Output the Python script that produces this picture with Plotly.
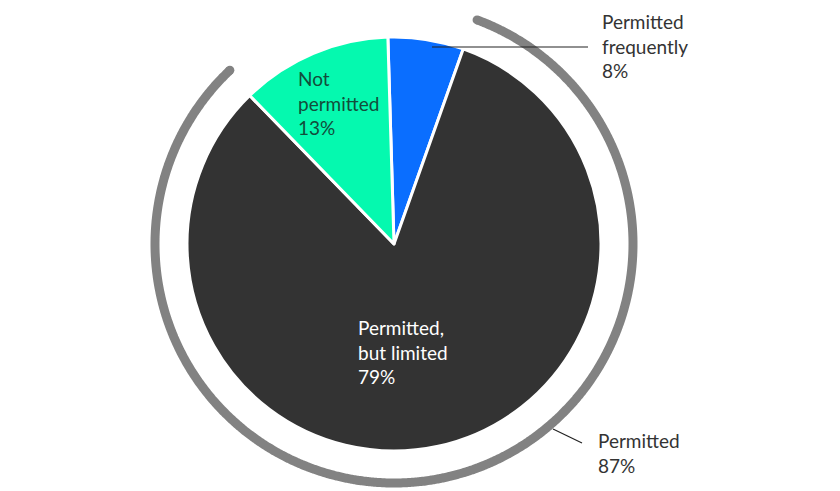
import math
import plotly.graph_objects as go

# ---- data ----
slice_names = ["Permitted frequently", "Permitted, but limited", "Not permitted"]
slice_values = [5.9, 82.3, 11.8]          # drawn slice sizes
slice_labels = ["Permitted<br>frequently<br>8%", "Permitted,<br>but limited<br>79%", "Not<br>permitted<br>13%"]
group_label = "Permitted<br>87%"
slice_colors = ["#0a6eff", "#333333", "#05f9af"]

W, H = 840, 491
OFF = 8                    # page offset of the plot inside the browser window
CX, CY = 394 - OFF, 244 - OFF   # pie centre in figure pixels (from top-left)
R_PIE = 207
R_ARC = 239
START = -1.7               # start angle of first slice (deg clockwise from 12 o'clock)

FONT = "Lato, 'Open Sans', sans-serif"
FS = 19

def px(x):
    return (x - OFF) / W

def py(y):
    return 1 - (y - OFF) / H

fig = go.Figure()

fig.add_trace(go.Pie(
    labels=slice_names,
    values=slice_values,
    sort=False,
    direction="clockwise",
    rotation=START,
    marker=dict(colors=slice_colors, line=dict(color="white", width=3)),
    textinfo="none",
    hoverinfo="label+percent",
    showlegend=False,
    domain=dict(x=[(CX - R_PIE) / W, (CX + R_PIE) / W], y=[1 - (CY + R_PIE) / H, 1 - (CY - R_PIE) / H]),
))

# arc around the "permitted" part, derived from slice values
total = sum(slice_values)
a0 = START + slice_values[0] / total * 360 + 0.8
a1 = START + (slice_values[0] + slice_values[1]) / total * 360 + 0.8
n = 600
thetas = [math.radians(a0 + (a1 - a0) * i / n) for i in range(n + 1)]
ax_ = [CX + R_ARC * math.sin(t) for t in thetas]
ay_ = [CY - R_ARC * math.cos(t) for t in thetas]
fig.add_trace(go.Scatter(
    x=ax_, y=ay_, mode="lines", cliponaxis=False,
    line=dict(color="#828282", width=9, simplify=False, shape="spline", smoothing=1),
    hoverinfo="skip", showlegend=False,
))
fig.add_trace(go.Scatter(
    x=[ax_[0], ax_[-1]], y=[ay_[0], ay_[-1]], mode="markers", cliponaxis=False,
    marker=dict(color="#828282", size=9, line=dict(width=0)), hoverinfo="skip", showlegend=False,
))

fig.update_layout(
    width=W, height=H,
    margin=dict(l=0, r=0, t=0, b=0),
    paper_bgcolor="white",
    plot_bgcolor="rgba(0,0,0,0)",
    font=dict(family=FONT, size=FS, color="#333333"),
    xaxis=dict(visible=False, range=[0, W], domain=[0, 1], fixedrange=True),
    yaxis=dict(visible=False, range=[H, 0], domain=[0, 1], fixedrange=True),
    showlegend=False,
)

ann_common = dict(xref="paper", yref="paper", showarrow=False, xanchor="left", yanchor="middle", align="left")
fig.add_annotation(x=px(600), y=py(46), text=slice_labels[0], font=dict(family=FONT, size=FS, color="#333333"), **ann_common)
fig.add_annotation(x=px(356), y=py(352), text=slice_labels[1], font=dict(family=FONT, size=FS, color="#ffffff"), **ann_common)
fig.add_annotation(x=px(296), y=py(103), text=slice_labels[2], font=dict(family=FONT, size=FS, color="#134d3b"), **ann_common)
fig.add_annotation(x=px(596), y=py(453), text=group_label, font=dict(family=FONT, size=FS, color="#333333"), **ann_common)

# leader lines
fig.add_shape(type="line", xref="paper", yref="paper", x0=px(432), y0=py(47), x1=px(588), y1=py(47),
              line=dict(color="#222222", width=1.2), layer="above")
fig.add_shape(type="line", xref="paper", yref="paper", x0=px(553), y0=py(429), x1=px(582), y1=py(443),
              line=dict(color="#222222", width=1.2), layer="above")

fig.write_html("out.html")
